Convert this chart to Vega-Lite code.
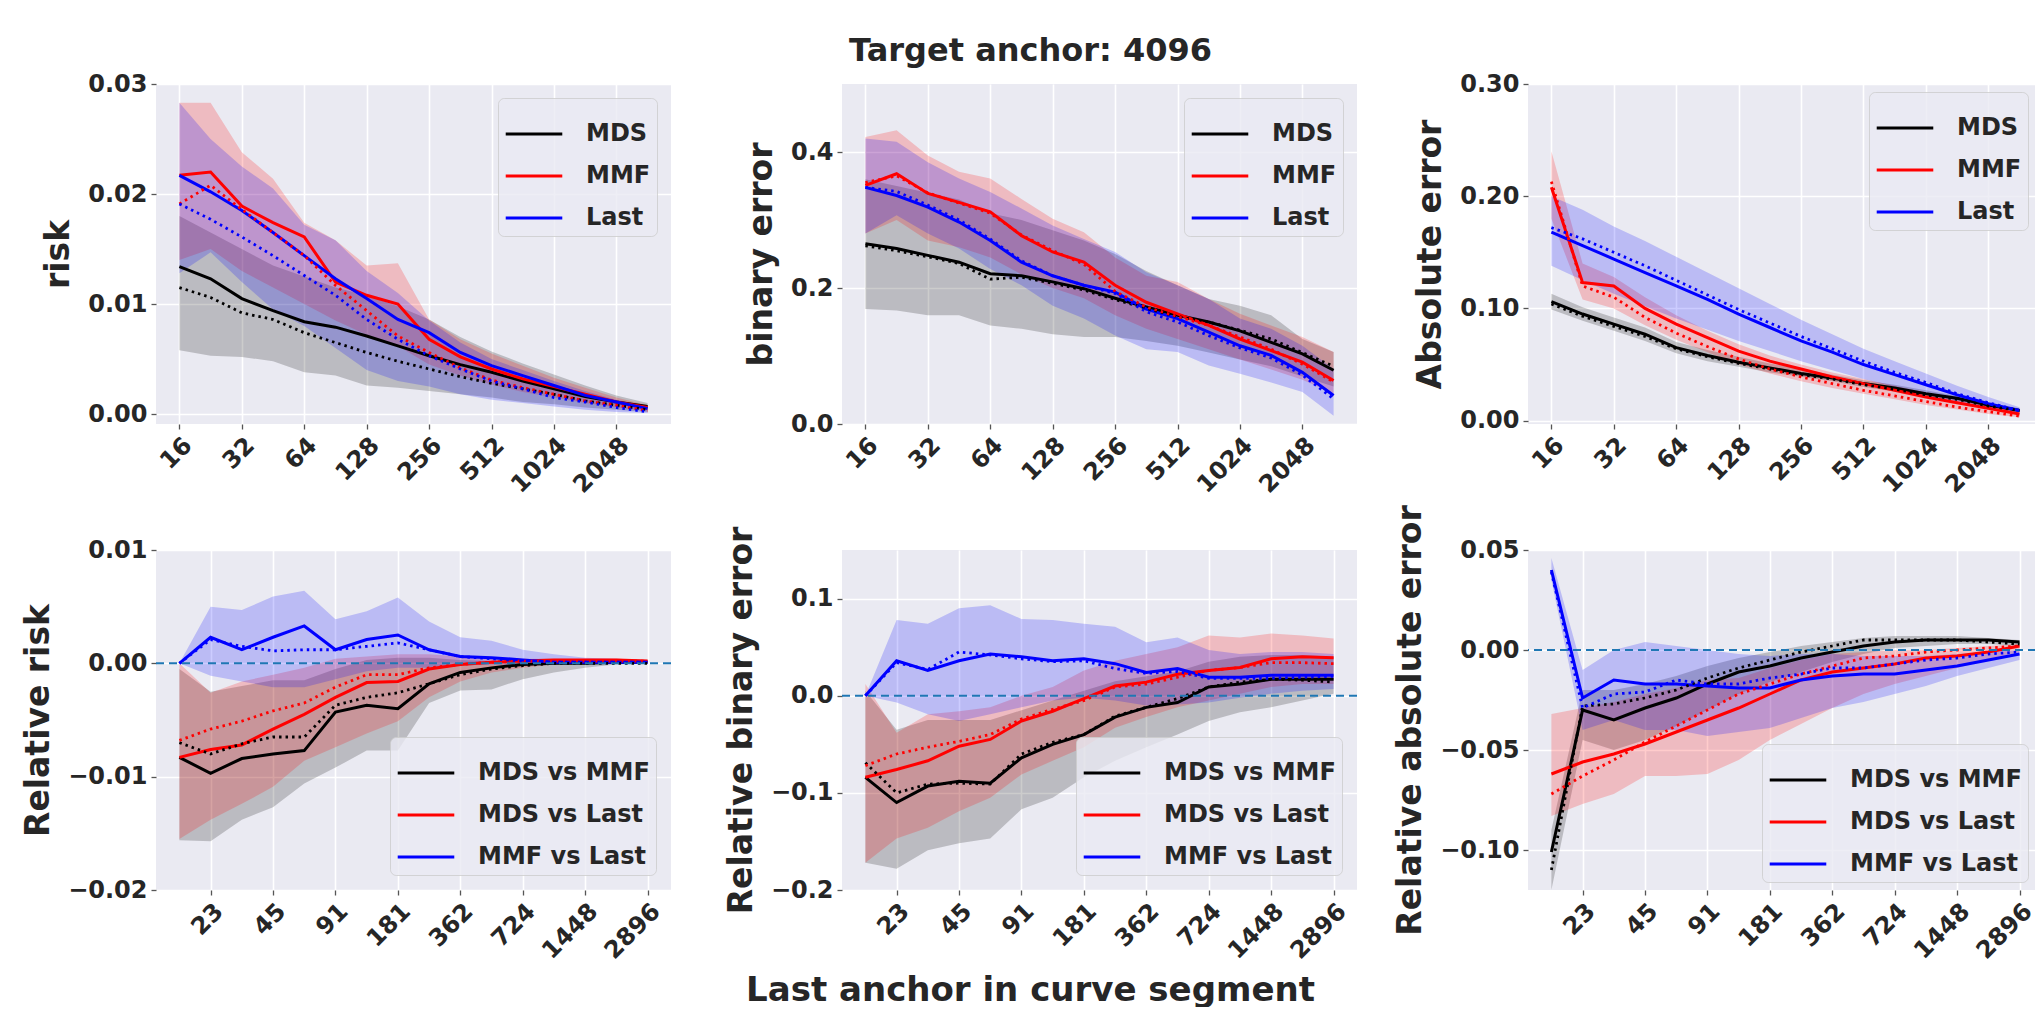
{
"$schema": "https://vega.github.io/schema/vega-lite/v6.json",
"background": "white",
"padding": {"left": 22, "top": 35, "right": 0, "bottom": 0},
"datasets": {"d": [
{"p":1,"s":"MDS","x":16,"m":0.0134,"d":0.0115,"lo":0.0058,"hi":0.018},
{"p":1,"s":"MDS","x":22.627,"m":0.0123,"d":0.0106,"lo":0.0053,"hi":0.0165},
{"p":1,"s":"MDS","x":32,"m":0.0105,"d":0.0092,"lo":0.0052,"hi":0.015},
{"p":1,"s":"MDS","x":45.255,"m":0.0094,"d":0.0086,"lo":0.0048,"hi":0.0135},
{"p":1,"s":"MDS","x":64,"m":0.0084,"d":0.0074,"lo":0.0038,"hi":0.0125},
{"p":1,"s":"MDS","x":90.51,"m":0.0079,"d":0.0065,"lo":0.0035,"hi":0.0115},
{"p":1,"s":"MDS","x":128,"m":0.0071,"d":0.0056,"lo":0.0026,"hi":0.0108},
{"p":1,"s":"MDS","x":181.019,"m":0.0062,"d":0.0048,"lo":0.0024,"hi":0.0098},
{"p":1,"s":"MDS","x":256,"m":0.0053,"d":0.0041,"lo":0.0021,"hi":0.0086},
{"p":1,"s":"MDS","x":362.039,"m":0.0045,"d":0.0034,"lo":0.0018,"hi":0.007},
{"p":1,"s":"MDS","x":512,"m":0.0038,"d":0.0028,"lo":0.0015,"hi":0.0057},
{"p":1,"s":"MDS","x":724.077,"m":0.003,"d":0.0023,"lo":0.0011,"hi":0.0046},
{"p":1,"s":"MDS","x":1024,"m":0.0023,"d":0.0018,"lo":0.0009,"hi":0.0036},
{"p":1,"s":"MDS","x":1448.155,"m":0.0016,"d":0.0012,"lo":0.0006,"hi":0.0026},
{"p":1,"s":"MDS","x":2048,"m":0.0011,"d":0.0008,"lo":0.0004,"hi":0.0017},
{"p":1,"s":"MDS","x":2896.309,"m":0.0007,"d":0.0004,"lo":0.0002,"hi":0.001},
{"p":1,"s":"MMF","x":16,"m":0.0217,"d":0.0191,"lo":0.014,"hi":0.0283},
{"p":1,"s":"MMF","x":22.627,"m":0.022,"d":0.0208,"lo":0.015,"hi":0.0283},
{"p":1,"s":"MMF","x":32,"m":0.0189,"d":0.0186,"lo":0.013,"hi":0.0238},
{"p":1,"s":"MMF","x":45.255,"m":0.0174,"d":0.0165,"lo":0.0115,"hi":0.0214},
{"p":1,"s":"MMF","x":64,"m":0.0161,"d":0.0144,"lo":0.01,"hi":0.0174},
{"p":1,"s":"MMF","x":90.51,"m":0.012,"d":0.0117,"lo":0.0085,"hi":0.0158},
{"p":1,"s":"MMF","x":128,"m":0.0108,"d":0.0094,"lo":0.0072,"hi":0.0135},
{"p":1,"s":"MMF","x":181.019,"m":0.01,"d":0.0071,"lo":0.0062,"hi":0.0137},
{"p":1,"s":"MMF","x":256,"m":0.0068,"d":0.0056,"lo":0.0045,"hi":0.0086},
{"p":1,"s":"MMF","x":362.039,"m":0.0052,"d":0.0042,"lo":0.0035,"hi":0.0068},
{"p":1,"s":"MMF","x":512,"m":0.0041,"d":0.0031,"lo":0.0027,"hi":0.0055},
{"p":1,"s":"MMF","x":724.077,"m":0.0032,"d":0.0024,"lo":0.002,"hi":0.0044},
{"p":1,"s":"MMF","x":1024,"m":0.0025,"d":0.0018,"lo":0.0015,"hi":0.0033},
{"p":1,"s":"MMF","x":1448.155,"m":0.0018,"d":0.0012,"lo":0.001,"hi":0.0024},
{"p":1,"s":"MMF","x":2048,"m":0.0011,"d":0.0008,"lo":0.0006,"hi":0.0015},
{"p":1,"s":"MMF","x":2896.309,"m":0.0006,"d":0.0003,"lo":0.0003,"hi":0.0008},
{"p":1,"s":"Last","x":16,"m":0.0217,"d":0.0191,"lo":0.0128,"hi":0.0283},
{"p":1,"s":"Last","x":22.627,"m":0.0202,"d":0.0177,"lo":0.0147,"hi":0.025},
{"p":1,"s":"Last","x":32,"m":0.0185,"d":0.0161,"lo":0.012,"hi":0.0225},
{"p":1,"s":"Last","x":45.255,"m":0.0165,"d":0.0144,"lo":0.0095,"hi":0.0205},
{"p":1,"s":"Last","x":64,"m":0.0144,"d":0.0126,"lo":0.008,"hi":0.0172},
{"p":1,"s":"Last","x":90.51,"m":0.0123,"d":0.0108,"lo":0.006,"hi":0.0158},
{"p":1,"s":"Last","x":128,"m":0.0105,"d":0.0086,"lo":0.004,"hi":0.013},
{"p":1,"s":"Last","x":181.019,"m":0.0086,"d":0.0068,"lo":0.003,"hi":0.011},
{"p":1,"s":"Last","x":256,"m":0.0074,"d":0.0053,"lo":0.0025,"hi":0.0085},
{"p":1,"s":"Last","x":362.039,"m":0.0056,"d":0.0041,"lo":0.0018,"hi":0.0065},
{"p":1,"s":"Last","x":512,"m":0.0044,"d":0.003,"lo":0.0013,"hi":0.005},
{"p":1,"s":"Last","x":724.077,"m":0.0035,"d":0.0023,"lo":0.001,"hi":0.004},
{"p":1,"s":"Last","x":1024,"m":0.0026,"d":0.0015,"lo":0.0007,"hi":0.003},
{"p":1,"s":"Last","x":1448.155,"m":0.0017,"d":0.0011,"lo":0.0004,"hi":0.0021},
{"p":1,"s":"Last","x":2048,"m":0.0011,"d":0.0006,"lo":0.0002,"hi":0.0013},
{"p":1,"s":"Last","x":2896.309,"m":0.0005,"d":0.0002,"lo":0.0001,"hi":0.0007},
{"p":2,"s":"MDS","x":16,"m":0.265,"d":0.262,"lo":0.169,"hi":0.36},
{"p":2,"s":"MDS","x":22.627,"m":0.258,"d":0.255,"lo":0.167,"hi":0.35},
{"p":2,"s":"MDS","x":32,"m":0.248,"d":0.246,"lo":0.16,"hi":0.34},
{"p":2,"s":"MDS","x":45.255,"m":0.238,"d":0.236,"lo":0.16,"hi":0.33},
{"p":2,"s":"MDS","x":64,"m":0.221,"d":0.213,"lo":0.145,"hi":0.31},
{"p":2,"s":"MDS","x":90.51,"m":0.218,"d":0.216,"lo":0.14,"hi":0.3},
{"p":2,"s":"MDS","x":128,"m":0.209,"d":0.207,"lo":0.132,"hi":0.285},
{"p":2,"s":"MDS","x":181.019,"m":0.199,"d":0.197,"lo":0.128,"hi":0.27},
{"p":2,"s":"MDS","x":256,"m":0.185,"d":0.183,"lo":0.128,"hi":0.25},
{"p":2,"s":"MDS","x":362.039,"m":0.172,"d":0.17,"lo":0.122,"hi":0.225},
{"p":2,"s":"MDS","x":512,"m":0.16,"d":0.158,"lo":0.115,"hi":0.204},
{"p":2,"s":"MDS","x":724.077,"m":0.15,"d":0.15,"lo":0.105,"hi":0.184},
{"p":2,"s":"MDS","x":1024,"m":0.137,"d":0.138,"lo":0.095,"hi":0.174},
{"p":2,"s":"MDS","x":1448.155,"m":0.12,"d":0.125,"lo":0.085,"hi":0.16},
{"p":2,"s":"MDS","x":2048,"m":0.103,"d":0.105,"lo":0.07,"hi":0.125},
{"p":2,"s":"MDS","x":2896.309,"m":0.079,"d":0.085,"lo":0.055,"hi":0.106},
{"p":2,"s":"MMF","x":16,"m":0.351,"d":0.355,"lo":0.28,"hi":0.422},
{"p":2,"s":"MMF","x":22.627,"m":0.368,"d":0.365,"lo":0.3,"hi":0.432},
{"p":2,"s":"MMF","x":32,"m":0.339,"d":0.34,"lo":0.27,"hi":0.395},
{"p":2,"s":"MMF","x":45.255,"m":0.326,"d":0.325,"lo":0.26,"hi":0.371},
{"p":2,"s":"MMF","x":64,"m":0.312,"d":0.31,"lo":0.245,"hi":0.361},
{"p":2,"s":"MMF","x":90.51,"m":0.277,"d":0.278,"lo":0.22,"hi":0.331},
{"p":2,"s":"MMF","x":128,"m":0.253,"d":0.255,"lo":0.2,"hi":0.302},
{"p":2,"s":"MMF","x":181.019,"m":0.238,"d":0.235,"lo":0.185,"hi":0.282},
{"p":2,"s":"MMF","x":256,"m":0.204,"d":0.195,"lo":0.16,"hi":0.245},
{"p":2,"s":"MMF","x":362.039,"m":0.179,"d":0.172,"lo":0.14,"hi":0.218},
{"p":2,"s":"MMF","x":512,"m":0.162,"d":0.158,"lo":0.125,"hi":0.209},
{"p":2,"s":"MMF","x":724.077,"m":0.145,"d":0.145,"lo":0.11,"hi":0.184},
{"p":2,"s":"MMF","x":1024,"m":0.125,"d":0.128,"lo":0.095,"hi":0.162},
{"p":2,"s":"MMF","x":1448.155,"m":0.108,"d":0.11,"lo":0.08,"hi":0.145},
{"p":2,"s":"MMF","x":2048,"m":0.091,"d":0.088,"lo":0.065,"hi":0.128},
{"p":2,"s":"MMF","x":2896.309,"m":0.064,"d":0.062,"lo":0.045,"hi":0.106},
{"p":2,"s":"Last","x":16,"m":0.348,"d":0.348,"lo":0.28,"hi":0.42},
{"p":2,"s":"Last","x":22.627,"m":0.336,"d":0.342,"lo":0.307,"hi":0.415},
{"p":2,"s":"Last","x":32,"m":0.319,"d":0.322,"lo":0.28,"hi":0.385},
{"p":2,"s":"Last","x":45.255,"m":0.297,"d":0.3,"lo":0.258,"hi":0.361},
{"p":2,"s":"Last","x":64,"m":0.27,"d":0.272,"lo":0.228,"hi":0.341},
{"p":2,"s":"Last","x":90.51,"m":0.238,"d":0.24,"lo":0.204,"hi":0.317},
{"p":2,"s":"Last","x":128,"m":0.218,"d":0.218,"lo":0.174,"hi":0.292},
{"p":2,"s":"Last","x":181.019,"m":0.204,"d":0.204,"lo":0.155,"hi":0.272},
{"p":2,"s":"Last","x":256,"m":0.194,"d":0.192,"lo":0.13,"hi":0.253},
{"p":2,"s":"Last","x":362.039,"m":0.169,"d":0.165,"lo":0.11,"hi":0.223},
{"p":2,"s":"Last","x":512,"m":0.155,"d":0.15,"lo":0.106,"hi":0.204},
{"p":2,"s":"Last","x":724.077,"m":0.135,"d":0.13,"lo":0.086,"hi":0.184},
{"p":2,"s":"Last","x":1024,"m":0.115,"d":0.112,"lo":0.074,"hi":0.155},
{"p":2,"s":"Last","x":1448.155,"m":0.101,"d":0.097,"lo":0.061,"hi":0.14},
{"p":2,"s":"Last","x":2048,"m":0.076,"d":0.072,"lo":0.047,"hi":0.115},
{"p":2,"s":"Last","x":2896.309,"m":0.042,"d":0.037,"lo":0.012,"hi":0.081},
{"p":3,"s":"MDS","x":16,"m":0.106,"d":0.104,"lo":0.099,"hi":0.113},
{"p":3,"s":"MDS","x":22.627,"m":0.095,"d":0.093,"lo":0.089,"hi":0.101},
{"p":3,"s":"MDS","x":32,"m":0.086,"d":0.084,"lo":0.08,"hi":0.092},
{"p":3,"s":"MDS","x":45.255,"m":0.077,"d":0.075,"lo":0.071,"hi":0.083},
{"p":3,"s":"MDS","x":64,"m":0.065,"d":0.064,"lo":0.06,"hi":0.07},
{"p":3,"s":"MDS","x":90.51,"m":0.058,"d":0.057,"lo":0.053,"hi":0.063},
{"p":3,"s":"MDS","x":128,"m":0.052,"d":0.051,"lo":0.048,"hi":0.057},
{"p":3,"s":"MDS","x":181.019,"m":0.047,"d":0.046,"lo":0.043,"hi":0.051},
{"p":3,"s":"MDS","x":256,"m":0.042,"d":0.041,"lo":0.039,"hi":0.046},
{"p":3,"s":"MDS","x":362.039,"m":0.038,"d":0.037,"lo":0.035,"hi":0.041},
{"p":3,"s":"MDS","x":512,"m":0.033,"d":0.032,"lo":0.03,"hi":0.036},
{"p":3,"s":"MDS","x":724.077,"m":0.029,"d":0.028,"lo":0.026,"hi":0.032},
{"p":3,"s":"MDS","x":1024,"m":0.024,"d":0.023,"lo":0.022,"hi":0.027},
{"p":3,"s":"MDS","x":1448.155,"m":0.02,"d":0.019,"lo":0.018,"hi":0.022},
{"p":3,"s":"MDS","x":2048,"m":0.014,"d":0.013,"lo":0.012,"hi":0.016},
{"p":3,"s":"MDS","x":2896.309,"m":0.009,"d":0.009,"lo":0.008,"hi":0.011},
{"p":3,"s":"MMF","x":16,"m":0.208,"d":0.213,"lo":0.18,"hi":0.24},
{"p":3,"s":"MMF","x":22.627,"m":0.123,"d":0.12,"lo":0.108,"hi":0.14},
{"p":3,"s":"MMF","x":32,"m":0.12,"d":0.11,"lo":0.1,"hi":0.128},
{"p":3,"s":"MMF","x":45.255,"m":0.1,"d":0.092,"lo":0.085,"hi":0.11},
{"p":3,"s":"MMF","x":64,"m":0.086,"d":0.078,"lo":0.072,"hi":0.094},
{"p":3,"s":"MMF","x":90.51,"m":0.074,"d":0.066,"lo":0.061,"hi":0.08},
{"p":3,"s":"MMF","x":128,"m":0.062,"d":0.055,"lo":0.05,"hi":0.068},
{"p":3,"s":"MMF","x":181.019,"m":0.053,"d":0.046,"lo":0.042,"hi":0.058},
{"p":3,"s":"MMF","x":256,"m":0.046,"d":0.039,"lo":0.035,"hi":0.05},
{"p":3,"s":"MMF","x":362.039,"m":0.039,"d":0.033,"lo":0.029,"hi":0.043},
{"p":3,"s":"MMF","x":512,"m":0.033,"d":0.027,"lo":0.024,"hi":0.037},
{"p":3,"s":"MMF","x":724.077,"m":0.027,"d":0.022,"lo":0.019,"hi":0.031},
{"p":3,"s":"MMF","x":1024,"m":0.021,"d":0.017,"lo":0.014,"hi":0.025},
{"p":3,"s":"MMF","x":1448.155,"m":0.016,"d":0.012,"lo":0.01,"hi":0.019},
{"p":3,"s":"MMF","x":2048,"m":0.011,"d":0.008,"lo":0.006,"hi":0.014},
{"p":3,"s":"MMF","x":2896.309,"m":0.006,"d":0.004,"lo":0.003,"hi":0.008},
{"p":3,"s":"Last","x":16,"m":0.168,"d":0.172,"lo":0.138,"hi":0.2},
{"p":3,"s":"Last","x":22.627,"m":0.156,"d":0.162,"lo":0.125,"hi":0.188},
{"p":3,"s":"Last","x":32,"m":0.144,"d":0.15,"lo":0.113,"hi":0.173},
{"p":3,"s":"Last","x":45.255,"m":0.132,"d":0.138,"lo":0.102,"hi":0.16},
{"p":3,"s":"Last","x":64,"m":0.12,"d":0.125,"lo":0.091,"hi":0.146},
{"p":3,"s":"Last","x":90.51,"m":0.108,"d":0.112,"lo":0.081,"hi":0.132},
{"p":3,"s":"Last","x":128,"m":0.095,"d":0.099,"lo":0.071,"hi":0.118},
{"p":3,"s":"Last","x":181.019,"m":0.083,"d":0.087,"lo":0.062,"hi":0.104},
{"p":3,"s":"Last","x":256,"m":0.071,"d":0.075,"lo":0.053,"hi":0.09},
{"p":3,"s":"Last","x":362.039,"m":0.061,"d":0.064,"lo":0.045,"hi":0.077},
{"p":3,"s":"Last","x":512,"m":0.05,"d":0.053,"lo":0.037,"hi":0.064},
{"p":3,"s":"Last","x":724.077,"m":0.041,"d":0.043,"lo":0.03,"hi":0.053},
{"p":3,"s":"Last","x":1024,"m":0.032,"d":0.034,"lo":0.023,"hi":0.042},
{"p":3,"s":"Last","x":1448.155,"m":0.023,"d":0.024,"lo":0.016,"hi":0.031},
{"p":3,"s":"Last","x":2048,"m":0.015,"d":0.016,"lo":0.01,"hi":0.021},
{"p":3,"s":"Last","x":2896.309,"m":0.009,"d":0.009,"lo":0.006,"hi":0.012},
{"p":4,"s":"MDS vs MMF","x":16,"m":-0.0083,"d":-0.007,"lo":-0.0156,"hi":-0.0005},
{"p":4,"s":"MDS vs MMF","x":22.627,"m":-0.0097,"d":-0.008,"lo":-0.0157,"hi":-0.0025},
{"p":4,"s":"MDS vs MMF","x":32,"m":-0.0084,"d":-0.0071,"lo":-0.0138,"hi":-0.002},
{"p":4,"s":"MDS vs MMF","x":45.255,"m":-0.008,"d":-0.0065,"lo":-0.0127,"hi":-0.0015},
{"p":4,"s":"MDS vs MMF","x":64,"m":-0.0077,"d":-0.0065,"lo":-0.0106,"hi":-0.0015},
{"p":4,"s":"MDS vs MMF","x":90.51,"m":-0.0043,"d":-0.0037,"lo":-0.0092,"hi":-0.0005},
{"p":4,"s":"MDS vs MMF","x":128,"m":-0.0037,"d":-0.003,"lo":-0.0077,"hi":0.0003},
{"p":4,"s":"MDS vs MMF","x":181.019,"m":-0.004,"d":-0.0026,"lo":-0.0077,"hi":0.0005},
{"p":4,"s":"MDS vs MMF","x":256,"m":-0.0018,"d":-0.0018,"lo":-0.0035,"hi":0.0005},
{"p":4,"s":"MDS vs MMF","x":362.039,"m":-0.0008,"d":-0.001,"lo":-0.0024,"hi":0.0003},
{"p":4,"s":"MDS vs MMF","x":512,"m":-0.0004,"d":-0.0005,"lo":-0.0023,"hi":0.0002},
{"p":4,"s":"MDS vs MMF","x":724.077,"m":-0.0001,"d":-0.0002,"lo":-0.0014,"hi":0.0002},
{"p":4,"s":"MDS vs MMF","x":1024,"m":0,"d":0,"lo":-0.0008,"hi":0.0001},
{"p":4,"s":"MDS vs MMF","x":1448.155,"m":0,"d":0,"lo":-0.0004,"hi":0.0001},
{"p":4,"s":"MDS vs MMF","x":2048,"m":0.0001,"d":0,"lo":-0.0001,"hi":0.0001},
{"p":4,"s":"MDS vs MMF","x":2896.309,"m":0.0001,"d":0,"lo":0,"hi":0.0001},
{"p":4,"s":"MDS vs Last","x":16,"m":-0.0083,"d":-0.0068,"lo":-0.0155,"hi":0},
{"p":4,"s":"MDS vs Last","x":22.627,"m":-0.0076,"d":-0.0058,"lo":-0.0138,"hi":-0.0026},
{"p":4,"s":"MDS vs Last","x":32,"m":-0.0072,"d":-0.0051,"lo":-0.0124,"hi":-0.0016},
{"p":4,"s":"MDS vs Last","x":45.255,"m":-0.0058,"d":-0.0042,"lo":-0.0109,"hi":-0.001},
{"p":4,"s":"MDS vs Last","x":64,"m":-0.0045,"d":-0.0035,"lo":-0.0086,"hi":-0.0004},
{"p":4,"s":"MDS vs Last","x":90.51,"m":-0.003,"d":-0.0021,"lo":-0.0074,"hi":0.0004},
{"p":4,"s":"MDS vs Last","x":128,"m":-0.0017,"d":-0.001,"lo":-0.0062,"hi":0.0006},
{"p":4,"s":"MDS vs Last","x":181.019,"m":-0.0016,"d":-0.001,"lo":-0.0051,"hi":0.0008},
{"p":4,"s":"MDS vs Last","x":256,"m":-0.0005,"d":-0.0004,"lo":-0.003,"hi":0.0008},
{"p":4,"s":"MDS vs Last","x":362.039,"m":-0.0001,"d":-0.0001,"lo":-0.0016,"hi":0.0006},
{"p":4,"s":"MDS vs Last","x":512,"m":0.0001,"d":0.0001,"lo":-0.0008,"hi":0.0005},
{"p":4,"s":"MDS vs Last","x":724.077,"m":0.0002,"d":0.0002,"lo":-0.0004,"hi":0.0004},
{"p":4,"s":"MDS vs Last","x":1024,"m":0.0003,"d":0.0002,"lo":-0.0001,"hi":0.0004},
{"p":4,"s":"MDS vs Last","x":1448.155,"m":0.0003,"d":0.0002,"lo":-0.0001,"hi":0.0004},
{"p":4,"s":"MDS vs Last","x":2048,"m":0.0003,"d":0.0002,"lo":0,"hi":0.0004},
{"p":4,"s":"MDS vs Last","x":2896.309,"m":0.0002,"d":0.0002,"lo":0,"hi":0.0003},
{"p":4,"s":"MMF vs Last","x":16,"m":0,"d":0,"lo":0,"hi":0},
{"p":4,"s":"MMF vs Last","x":22.627,"m":0.0023,"d":0.0021,"lo":-0.0011,"hi":0.005},
{"p":4,"s":"MMF vs Last","x":32,"m":0.0012,"d":0.0015,"lo":-0.0016,"hi":0.0047},
{"p":4,"s":"MMF vs Last","x":45.255,"m":0.0023,"d":0.0011,"lo":-0.0021,"hi":0.0059},
{"p":4,"s":"MMF vs Last","x":64,"m":0.0033,"d":0.0012,"lo":-0.0021,"hi":0.0064},
{"p":4,"s":"MMF vs Last","x":90.51,"m":0.0012,"d":0.0012,"lo":-0.0014,"hi":0.0039},
{"p":4,"s":"MMF vs Last","x":128,"m":0.0021,"d":0.0015,"lo":-0.0007,"hi":0.0046},
{"p":4,"s":"MMF vs Last","x":181.019,"m":0.0025,"d":0.0018,"lo":-0.0004,"hi":0.0058},
{"p":4,"s":"MMF vs Last","x":256,"m":0.0012,"d":0.0012,"lo":-0.0004,"hi":0.0037},
{"p":4,"s":"MMF vs Last","x":362.039,"m":0.0006,"d":0.0006,"lo":-0.0002,"hi":0.0023},
{"p":4,"s":"MMF vs Last","x":512,"m":0.0005,"d":0.0004,"lo":-0.0001,"hi":0.002},
{"p":4,"s":"MMF vs Last","x":724.077,"m":0.0003,"d":0.0002,"lo":-0.0001,"hi":0.0012},
{"p":4,"s":"MMF vs Last","x":1024,"m":0.0001,"d":0.0001,"lo":-0.0001,"hi":0.0008},
{"p":4,"s":"MMF vs Last","x":1448.155,"m":0.0001,"d":0.0001,"lo":0,"hi":0.0005},
{"p":4,"s":"MMF vs Last","x":2048,"m":0.0001,"d":0.0001,"lo":0,"hi":0.0004},
{"p":4,"s":"MMF vs Last","x":2896.309,"m":0.0001,"d":0.0001,"lo":0,"hi":0.0003},
{"p":5,"s":"MDS vs MMF","x":16,"m":-0.084,"d":-0.069,"lo":-0.172,"hi":0.005},
{"p":5,"s":"MDS vs MMF","x":22.627,"m":-0.11,"d":-0.1,"lo":-0.178,"hi":-0.035},
{"p":5,"s":"MDS vs MMF","x":32,"m":-0.093,"d":-0.091,"lo":-0.159,"hi":-0.025},
{"p":5,"s":"MDS vs MMF","x":45.255,"m":-0.088,"d":-0.09,"lo":-0.152,"hi":-0.025},
{"p":5,"s":"MDS vs MMF","x":64,"m":-0.09,"d":-0.091,"lo":-0.147,"hi":-0.025},
{"p":5,"s":"MDS vs MMF","x":90.51,"m":-0.064,"d":-0.06,"lo":-0.117,"hi":-0.015},
{"p":5,"s":"MDS vs MMF","x":128,"m":-0.05,"d":-0.048,"lo":-0.105,"hi":-0.005},
{"p":5,"s":"MDS vs MMF","x":181.019,"m":-0.04,"d":-0.04,"lo":-0.084,"hi":0.005},
{"p":5,"s":"MDS vs MMF","x":256,"m":-0.022,"d":-0.021,"lo":-0.067,"hi":0.015},
{"p":5,"s":"MDS vs MMF","x":362.039,"m":-0.012,"d":-0.012,"lo":-0.053,"hi":0.02},
{"p":5,"s":"MDS vs MMF","x":512,"m":-0.007,"d":-0.003,"lo":-0.04,"hi":0.025},
{"p":5,"s":"MDS vs MMF","x":724.077,"m":0.009,"d":0.009,"lo":-0.026,"hi":0.035},
{"p":5,"s":"MDS vs MMF","x":1024,"m":0.012,"d":0.014,"lo":-0.017,"hi":0.04},
{"p":5,"s":"MDS vs MMF","x":1448.155,"m":0.017,"d":0.017,"lo":-0.012,"hi":0.042},
{"p":5,"s":"MDS vs MMF","x":2048,"m":0.017,"d":0.016,"lo":-0.005,"hi":0.042},
{"p":5,"s":"MDS vs MMF","x":2896.309,"m":0.017,"d":0.014,"lo":0.002,"hi":0.04},
{"p":5,"s":"MDS vs Last","x":16,"m":-0.084,"d":-0.072,"lo":-0.172,"hi":0.012},
{"p":5,"s":"MDS vs Last","x":22.627,"m":-0.076,"d":-0.06,"lo":-0.147,"hi":-0.038},
{"p":5,"s":"MDS vs Last","x":32,"m":-0.067,"d":-0.053,"lo":-0.136,"hi":-0.019},
{"p":5,"s":"MDS vs Last","x":45.255,"m":-0.052,"d":-0.047,"lo":-0.119,"hi":-0.016},
{"p":5,"s":"MDS vs Last","x":64,"m":-0.045,"d":-0.04,"lo":-0.105,"hi":-0.012},
{"p":5,"s":"MDS vs Last","x":90.51,"m":-0.026,"d":-0.024,"lo":-0.081,"hi":0},
{"p":5,"s":"MDS vs Last","x":128,"m":-0.016,"d":-0.014,"lo":-0.067,"hi":0.009},
{"p":5,"s":"MDS vs Last","x":181.019,"m":-0.003,"d":-0.005,"lo":-0.053,"hi":0.026},
{"p":5,"s":"MDS vs Last","x":256,"m":0.01,"d":0.009,"lo":-0.033,"hi":0.036},
{"p":5,"s":"MDS vs Last","x":362.039,"m":0.014,"d":0.012,"lo":-0.022,"hi":0.043},
{"p":5,"s":"MDS vs Last","x":512,"m":0.022,"d":0.019,"lo":-0.012,"hi":0.05},
{"p":5,"s":"MDS vs Last","x":724.077,"m":0.026,"d":0.026,"lo":-0.005,"hi":0.062},
{"p":5,"s":"MDS vs Last","x":1024,"m":0.029,"d":0.029,"lo":0.002,"hi":0.06},
{"p":5,"s":"MDS vs Last","x":1448.155,"m":0.038,"d":0.034,"lo":0.009,"hi":0.064},
{"p":5,"s":"MDS vs Last","x":2048,"m":0.04,"d":0.034,"lo":0.012,"hi":0.062},
{"p":5,"s":"MDS vs Last","x":2896.309,"m":0.039,"d":0.033,"lo":0.012,"hi":0.059},
{"p":5,"s":"MMF vs Last","x":16,"m":0,"d":0,"lo":0,"hi":0},
{"p":5,"s":"MMF vs Last","x":22.627,"m":0.036,"d":0.034,"lo":-0.007,"hi":0.078},
{"p":5,"s":"MMF vs Last","x":32,"m":0.026,"d":0.027,"lo":-0.019,"hi":0.074},
{"p":5,"s":"MMF vs Last","x":45.255,"m":0.036,"d":0.045,"lo":-0.026,"hi":0.09},
{"p":5,"s":"MMF vs Last","x":64,"m":0.043,"d":0.042,"lo":-0.019,"hi":0.093},
{"p":5,"s":"MMF vs Last","x":90.51,"m":0.04,"d":0.038,"lo":-0.012,"hi":0.079},
{"p":5,"s":"MMF vs Last","x":128,"m":0.036,"d":0.035,"lo":-0.005,"hi":0.078},
{"p":5,"s":"MMF vs Last","x":181.019,"m":0.038,"d":0.036,"lo":-0.002,"hi":0.074},
{"p":5,"s":"MMF vs Last","x":256,"m":0.033,"d":0.028,"lo":-0.005,"hi":0.071},
{"p":5,"s":"MMF vs Last","x":362.039,"m":0.024,"d":0.023,"lo":-0.01,"hi":0.055},
{"p":5,"s":"MMF vs Last","x":512,"m":0.028,"d":0.025,"lo":-0.009,"hi":0.06},
{"p":5,"s":"MMF vs Last","x":724.077,"m":0.019,"d":0.018,"lo":-0.007,"hi":0.047},
{"p":5,"s":"MMF vs Last","x":1024,"m":0.019,"d":0.018,"lo":-0.002,"hi":0.043},
{"p":5,"s":"MMF vs Last","x":1448.155,"m":0.021,"d":0.018,"lo":0.002,"hi":0.045},
{"p":5,"s":"MMF vs Last","x":2048,"m":0.021,"d":0.019,"lo":0.005,"hi":0.045},
{"p":5,"s":"MMF vs Last","x":2896.309,"m":0.021,"d":0.02,"lo":0.007,"hi":0.043},
{"p":6,"s":"MDS vs MMF","x":16,"m":-0.101,"d":-0.11,"lo":-0.12,"hi":-0.09},
{"p":6,"s":"MDS vs MMF","x":22.627,"m":-0.03,"d":-0.028,"lo":-0.045,"hi":-0.02},
{"p":6,"s":"MDS vs MMF","x":32,"m":-0.035,"d":-0.027,"lo":-0.05,"hi":-0.02},
{"p":6,"s":"MDS vs MMF","x":45.255,"m":-0.029,"d":-0.024,"lo":-0.045,"hi":-0.017},
{"p":6,"s":"MDS vs MMF","x":64,"m":-0.024,"d":-0.02,"lo":-0.038,"hi":-0.013},
{"p":6,"s":"MDS vs MMF","x":90.51,"m":-0.017,"d":-0.014,"lo":-0.03,"hi":-0.008},
{"p":6,"s":"MDS vs MMF","x":128,"m":-0.011,"d":-0.009,"lo":-0.022,"hi":-0.004},
{"p":6,"s":"MDS vs MMF","x":181.019,"m":-0.008,"d":-0.005,"lo":-0.016,"hi":-0.001},
{"p":6,"s":"MDS vs MMF","x":256,"m":-0.004,"d":-0.001,"lo":-0.011,"hi":0.002},
{"p":6,"s":"MDS vs MMF","x":362.039,"m":-0.001,"d":0.002,"lo":-0.006,"hi":0.004},
{"p":6,"s":"MDS vs MMF","x":512,"m":0.002,"d":0.005,"lo":-0.002,"hi":0.006},
{"p":6,"s":"MDS vs MMF","x":724.077,"m":0.004,"d":0.005,"lo":0.001,"hi":0.007},
{"p":6,"s":"MDS vs MMF","x":1024,"m":0.005,"d":0.005,"lo":0.002,"hi":0.007},
{"p":6,"s":"MDS vs MMF","x":1448.155,"m":0.005,"d":0.005,"lo":0.003,"hi":0.007},
{"p":6,"s":"MDS vs MMF","x":2048,"m":0.005,"d":0.004,"lo":0.003,"hi":0.006},
{"p":6,"s":"MDS vs MMF","x":2896.309,"m":0.004,"d":0.003,"lo":0.002,"hi":0.005},
{"p":6,"s":"MDS vs Last","x":16,"m":-0.062,"d":-0.072,"lo":-0.083,"hi":-0.032},
{"p":6,"s":"MDS vs Last","x":22.627,"m":-0.056,"d":-0.063,"lo":-0.077,"hi":-0.029},
{"p":6,"s":"MDS vs Last","x":32,"m":-0.052,"d":-0.055,"lo":-0.072,"hi":-0.026},
{"p":6,"s":"MDS vs Last","x":45.255,"m":-0.047,"d":-0.046,"lo":-0.063,"hi":-0.022},
{"p":6,"s":"MDS vs Last","x":64,"m":-0.041,"d":-0.038,"lo":-0.063,"hi":-0.019},
{"p":6,"s":"MDS vs Last","x":90.51,"m":-0.035,"d":-0.03,"lo":-0.062,"hi":-0.015},
{"p":6,"s":"MDS vs Last","x":128,"m":-0.029,"d":-0.022,"lo":-0.055,"hi":-0.014},
{"p":6,"s":"MDS vs Last","x":181.019,"m":-0.022,"d":-0.017,"lo":-0.045,"hi":-0.009},
{"p":6,"s":"MDS vs Last","x":256,"m":-0.015,"d":-0.012,"lo":-0.037,"hi":-0.005},
{"p":6,"s":"MDS vs Last","x":362.039,"m":-0.011,"d":-0.008,"lo":-0.029,"hi":-0.002},
{"p":6,"s":"MDS vs Last","x":512,"m":-0.009,"d":-0.004,"lo":-0.022,"hi":-0.001},
{"p":6,"s":"MDS vs Last","x":724.077,"m":-0.007,"d":-0.003,"lo":-0.017,"hi":0},
{"p":6,"s":"MDS vs Last","x":1024,"m":-0.004,"d":-0.001,"lo":-0.013,"hi":0},
{"p":6,"s":"MDS vs Last","x":1448.155,"m":-0.003,"d":0,"lo":-0.009,"hi":0.001},
{"p":6,"s":"MDS vs Last","x":2048,"m":-0.001,"d":0.001,"lo":-0.005,"hi":0.002},
{"p":6,"s":"MDS vs Last","x":2896.309,"m":0.002,"d":0.002,"lo":-0.001,"hi":0.003},
{"p":6,"s":"MMF vs Last","x":16,"m":0.04,"d":0.039,"lo":0.035,"hi":0.046},
{"p":6,"s":"MMF vs Last","x":22.627,"m":-0.024,"d":-0.029,"lo":-0.04,"hi":-0.01},
{"p":6,"s":"MMF vs Last","x":32,"m":-0.015,"d":-0.022,"lo":-0.035,"hi":0},
{"p":6,"s":"MMF vs Last","x":45.255,"m":-0.017,"d":-0.021,"lo":-0.04,"hi":0.004},
{"p":6,"s":"MMF vs Last","x":64,"m":-0.017,"d":-0.015,"lo":-0.04,"hi":0.002},
{"p":6,"s":"MMF vs Last","x":90.51,"m":-0.018,"d":-0.017,"lo":-0.043,"hi":0},
{"p":6,"s":"MMF vs Last","x":128,"m":-0.019,"d":-0.017,"lo":-0.041,"hi":-0.002},
{"p":6,"s":"MMF vs Last","x":181.019,"m":-0.019,"d":-0.014,"lo":-0.039,"hi":-0.003},
{"p":6,"s":"MMF vs Last","x":256,"m":-0.015,"d":-0.012,"lo":-0.034,"hi":-0.002},
{"p":6,"s":"MMF vs Last","x":362.039,"m":-0.013,"d":-0.009,"lo":-0.029,"hi":-0.002},
{"p":6,"s":"MMF vs Last","x":512,"m":-0.012,"d":-0.009,"lo":-0.026,"hi":-0.003},
{"p":6,"s":"MMF vs Last","x":724.077,"m":-0.012,"d":-0.007,"lo":-0.022,"hi":-0.003},
{"p":6,"s":"MMF vs Last","x":1024,"m":-0.01,"d":-0.005,"lo":-0.018,"hi":-0.003},
{"p":6,"s":"MMF vs Last","x":1448.155,"m":-0.008,"d":-0.004,"lo":-0.013,"hi":-0.002},
{"p":6,"s":"MMF vs Last","x":2048,"m":-0.005,"d":-0.002,"lo":-0.009,"hi":-0.001},
{"p":6,"s":"MMF vs Last","x":2896.309,"m":-0.002,"d":-0.001,"lo":-0.005,"hi":0},
{"p":4,"s":"ref","z":0},
{"p":5,"s":"ref","z":0},
{"p":6,"s":"ref","z":0}
]},
"data": {"name": "d"},
"columns": 3,
"spacing": {"row": 126, "column": 171},
"bounds": "flush",
"resolve": {"scale": {"color": "independent", "fill": "independent", "x": "independent", "y": "independent"}, "legend": {"color": "independent"}},
"concat": [
 {"width": 515, "height": 340, "transform": [{"filter": "datum.p == 1"}],
  "layer": [
   {"transform": [{"filter": "datum.s != 'ref'"}], "mark": {"type": "area", "fillOpacity": 0.2},
    "encoding": {
     "x": {"field": "x", "type": "quantitative", "title": null, "scale": {"type": "log", "base": 2, "domain": [12.34, 3756], "nice": false}, "axis": {"values": [16,32,64,128,256,512,1024,2048], "format": ".0f", "labelAngle": -45, "labelAlign": "right", "labelBaseline": "top"}},
     "y": {"field": "lo", "type": "quantitative", "title": "risk", "scale": {"domain": [-0.0009, 0.03], "nice": false, "zero": false}, "axis": {"values": [0, 0.01, 0.02, 0.03], "format": ".2f"}},
     "y2": {"field": "hi"},
     "fill": {"field": "s", "type": "nominal", "scale": {"domain": ["Last", "MMF", "MDS"], "range": ["#0000FF", "#FF0000", "#000000"]}, "legend": null}}},
   {"transform": [{"filter": "datum.s != 'ref'"}], "mark": {"type": "line", "strokeWidth": 3},
    "encoding": {
     "x": {"field": "x", "type": "quantitative", "title": null},
     "y": {"field": "m", "type": "quantitative", "title": "risk"},
     "color": {"field": "s", "type": "nominal", "scale": {"domain": ["MDS", "MMF", "Last"], "range": ["#000000", "#FF0000", "#0000FF"]}, "legend": {"orient": "top-right", "title": null, "offset": 14}}}},
   {"transform": [{"filter": "datum.s != 'ref'"}], "mark": {"type": "line", "strokeWidth": 2.8, "strokeDash": [2.5, 4]},
    "encoding": {
     "x": {"field": "x", "type": "quantitative", "title": null},
     "y": {"field": "d", "type": "quantitative", "title": "risk"},
     "color": {"field": "s", "type": "nominal"}}}
  ]},
 {"width": 515, "height": 340, "transform": [{"filter": "datum.p == 2"}],
  "title": {"text": "Target anchor: 4096", "fontSize": 32, "fontWeight": "bold", "color": "#262626", "dx": -69, "offset": -9, "baseline": "alphabetic"},
  "layer": [
   {"transform": [{"filter": "datum.s != 'ref'"}], "mark": {"type": "area", "fillOpacity": 0.2},
    "encoding": {
     "x": {"field": "x", "type": "quantitative", "title": null, "scale": {"type": "log", "base": 2, "domain": [12.34, 3756], "nice": false}, "axis": {"values": [16,32,64,128,256,512,1024,2048], "format": ".0f", "labelAngle": -45, "labelAlign": "right", "labelBaseline": "top"}},
     "y": {"field": "lo", "type": "quantitative", "title": "binary error", "scale": {"domain": [0, 0.5], "nice": false, "zero": false}, "axis": {"values": [0, 0.2, 0.4], "format": ".1f"}},
     "y2": {"field": "hi"},
     "fill": {"field": "s", "type": "nominal", "scale": {"domain": ["Last", "MMF", "MDS"], "range": ["#0000FF", "#FF0000", "#000000"]}, "legend": null}}},
   {"transform": [{"filter": "datum.s != 'ref'"}], "mark": {"type": "line", "strokeWidth": 3},
    "encoding": {
     "x": {"field": "x", "type": "quantitative", "title": null},
     "y": {"field": "m", "type": "quantitative", "title": "binary error"},
     "color": {"field": "s", "type": "nominal", "scale": {"domain": ["MDS", "MMF", "Last"], "range": ["#000000", "#FF0000", "#0000FF"]}, "legend": {"orient": "top-right", "title": null, "offset": 14}}}},
   {"transform": [{"filter": "datum.s != 'ref'"}], "mark": {"type": "line", "strokeWidth": 2.8, "strokeDash": [2.5, 4]},
    "encoding": {
     "x": {"field": "x", "type": "quantitative", "title": null},
     "y": {"field": "d", "type": "quantitative", "title": "binary error"},
     "color": {"field": "s", "type": "nominal"}}}
  ]},
 {"width": 508, "height": 340, "transform": [{"filter": "datum.p == 3"}],
  "layer": [
   {"transform": [{"filter": "datum.s != 'ref'"}], "mark": {"type": "area", "fillOpacity": 0.2},
    "encoding": {
     "x": {"field": "x", "type": "quantitative", "title": null, "scale": {"type": "log", "base": 2, "domain": [12.34, 3478], "nice": false}, "axis": {"values": [16,32,64,128,256,512,1024,2048], "format": ".0f", "labelAngle": -45, "labelAlign": "right", "labelBaseline": "top"}},
     "y": {"field": "lo", "type": "quantitative", "title": "Absolute error", "scale": {"domain": [-0.003, 0.3], "nice": false, "zero": false}, "axis": {"values": [0, 0.1, 0.2, 0.3], "format": ".2f"}},
     "y2": {"field": "hi"},
     "fill": {"field": "s", "type": "nominal", "scale": {"domain": ["Last", "MMF", "MDS"], "range": ["#0000FF", "#FF0000", "#000000"]}, "legend": null}}},
   {"transform": [{"filter": "datum.s != 'ref'"}], "mark": {"type": "line", "strokeWidth": 3},
    "encoding": {
     "x": {"field": "x", "type": "quantitative", "title": null},
     "y": {"field": "m", "type": "quantitative", "title": "Absolute error"},
     "color": {"field": "s", "type": "nominal", "scale": {"domain": ["MDS", "MMF", "Last"], "range": ["#000000", "#FF0000", "#0000FF"]}, "legend": {"orient": "top-right", "title": null, "offset": 8}}}},
   {"transform": [{"filter": "datum.s != 'ref'"}], "mark": {"type": "line", "strokeWidth": 2.8, "strokeDash": [2.5, 4]},
    "encoding": {
     "x": {"field": "x", "type": "quantitative", "title": null},
     "y": {"field": "d", "type": "quantitative", "title": "Absolute error"},
     "color": {"field": "s", "type": "nominal"}}}
  ]},
 {"width": 515, "height": 340, "transform": [{"filter": "datum.p == 4"}],
  "layer": [
   {"transform": [{"filter": "datum.s != 'ref'"}], "mark": {"type": "area", "fillOpacity": 0.2},
    "encoding": {
     "x": {"field": "x", "type": "quantitative", "title": null, "scale": {"type": "log", "base": 2, "domain": [12.34, 3756], "nice": false}, "axis": {"values": [22.627,45.255,90.51,181.019,362.039,724.077,1448.155,2896.309], "format": ".0f", "labelAngle": -45, "labelAlign": "right", "labelBaseline": "top"}},
     "y": {"field": "lo", "type": "quantitative", "title": "Relative risk", "scale": {"domain": [-0.02, 0.01], "nice": false, "zero": false}, "axis": {"values": [-0.02, -0.01, 0, 0.01], "format": ".2f"}},
     "y2": {"field": "hi"},
     "fill": {"field": "s", "type": "nominal", "scale": {"domain": ["MMF vs Last", "MDS vs Last", "MDS vs MMF"], "range": ["#0000FF", "#FF0000", "#000000"]}, "legend": null}}},
   {"transform": [{"filter": "datum.s != 'ref'"}], "mark": {"type": "line", "strokeWidth": 3},
    "encoding": {
     "x": {"field": "x", "type": "quantitative", "title": null},
     "y": {"field": "m", "type": "quantitative", "title": "Relative risk"},
     "color": {"field": "s", "type": "nominal", "scale": {"domain": ["MDS vs MMF", "MDS vs Last", "MMF vs Last"], "range": ["#000000", "#FF0000", "#0000FF"]}, "legend": {"orient": "bottom-right", "title": null, "offset": 15}}}},
   {"transform": [{"filter": "datum.s != 'ref'"}], "mark": {"type": "line", "strokeWidth": 2.8, "strokeDash": [2.5, 4]},
    "encoding": {
     "x": {"field": "x", "type": "quantitative", "title": null},
     "y": {"field": "d", "type": "quantitative", "title": "Relative risk"},
     "color": {"field": "s", "type": "nominal"}}},
   {"transform": [{"filter": "datum.s == 'ref'"}], "mark": {"type": "rule", "color": "#1f77b4", "strokeWidth": 2, "strokeDash": [8, 5]},
    "encoding": {"y": {"field": "z", "type": "quantitative", "title": "Relative risk"}}}
  ]},
 {"width": 515, "height": 340, "transform": [{"filter": "datum.p == 5"}],
  "layer": [
   {"transform": [{"filter": "datum.s != 'ref'"}], "mark": {"type": "area", "fillOpacity": 0.2},
    "encoding": {
     "x": {"field": "x", "type": "quantitative", "title": "Last anchor in curve segment", "scale": {"type": "log", "base": 2, "domain": [12.34, 3756], "nice": false}, "axis": {"values": [22.627,45.255,90.51,181.019,362.039,724.077,1448.155,2896.309], "format": ".0f", "labelAngle": -45, "labelAlign": "right", "labelBaseline": "top", "titleX": 188, "titleY": 110, "titleAlign": "center", "titleBaseline": "alphabetic", "titleFontSize": 34}},
     "y": {"field": "lo", "type": "quantitative", "title": "Relative binary error", "scale": {"domain": [-0.2, 0.15], "nice": false, "zero": false}, "axis": {"values": [-0.2, -0.1, 0, 0.1], "format": ".1f"}},
     "y2": {"field": "hi"},
     "fill": {"field": "s", "type": "nominal", "scale": {"domain": ["MMF vs Last", "MDS vs Last", "MDS vs MMF"], "range": ["#0000FF", "#FF0000", "#000000"]}, "legend": null}}},
   {"transform": [{"filter": "datum.s != 'ref'"}], "mark": {"type": "line", "strokeWidth": 3},
    "encoding": {
     "x": {"field": "x", "type": "quantitative", "title": "Last anchor in curve segment"},
     "y": {"field": "m", "type": "quantitative", "title": "Relative binary error"},
     "color": {"field": "s", "type": "nominal", "scale": {"domain": ["MDS vs MMF", "MDS vs Last", "MMF vs Last"], "range": ["#000000", "#FF0000", "#0000FF"]}, "legend": {"orient": "bottom-right", "title": null, "offset": 15}}}},
   {"transform": [{"filter": "datum.s != 'ref'"}], "mark": {"type": "line", "strokeWidth": 2.8, "strokeDash": [2.5, 4]},
    "encoding": {
     "x": {"field": "x", "type": "quantitative", "title": "Last anchor in curve segment"},
     "y": {"field": "d", "type": "quantitative", "title": "Relative binary error"},
     "color": {"field": "s", "type": "nominal"}}},
   {"transform": [{"filter": "datum.s == 'ref'"}], "mark": {"type": "rule", "color": "#1f77b4", "strokeWidth": 2, "strokeDash": [8, 5]},
    "encoding": {"y": {"field": "z", "type": "quantitative", "title": "Relative binary error"}}}
  ]},
 {"width": 508, "height": 340, "transform": [{"filter": "datum.p == 6"}],
  "layer": [
   {"transform": [{"filter": "datum.s != 'ref'"}], "mark": {"type": "area", "fillOpacity": 0.2},
    "encoding": {
     "x": {"field": "x", "type": "quantitative", "title": null, "scale": {"type": "log", "base": 2, "domain": [12.34, 3478], "nice": false}, "axis": {"values": [22.627,45.255,90.51,181.019,362.039,724.077,1448.155,2896.309], "format": ".0f", "labelAngle": -45, "labelAlign": "right", "labelBaseline": "top"}},
     "y": {"field": "lo", "type": "quantitative", "title": "Relative absolute error", "scale": {"domain": [-0.12, 0.05], "nice": false, "zero": false}, "axis": {"values": [-0.1, -0.05, 0, 0.05], "format": ".2f"}},
     "y2": {"field": "hi"},
     "fill": {"field": "s", "type": "nominal", "scale": {"domain": ["MMF vs Last", "MDS vs Last", "MDS vs MMF"], "range": ["#0000FF", "#FF0000", "#000000"]}, "legend": null}}},
   {"transform": [{"filter": "datum.s != 'ref'"}], "mark": {"type": "line", "strokeWidth": 3},
    "encoding": {
     "x": {"field": "x", "type": "quantitative", "title": null},
     "y": {"field": "m", "type": "quantitative", "title": "Relative absolute error"},
     "color": {"field": "s", "type": "nominal", "scale": {"domain": ["MDS vs MMF", "MDS vs Last", "MMF vs Last"], "range": ["#000000", "#FF0000", "#0000FF"]}, "legend": {"orient": "bottom-right", "title": null, "offset": 8}}}},
   {"transform": [{"filter": "datum.s != 'ref'"}], "mark": {"type": "line", "strokeWidth": 2.8, "strokeDash": [2.5, 4]},
    "encoding": {
     "x": {"field": "x", "type": "quantitative", "title": null},
     "y": {"field": "d", "type": "quantitative", "title": "Relative absolute error"},
     "color": {"field": "s", "type": "nominal"}}},
   {"transform": [{"filter": "datum.s == 'ref'"}], "mark": {"type": "rule", "color": "#1f77b4", "strokeWidth": 2, "strokeDash": [8, 5]},
    "encoding": {"y": {"field": "z", "type": "quantitative", "title": "Relative absolute error"}}}
  ]}
],
"config": {
 "font": "DejaVu Sans",
 "view": {"fill": "#EAEAF2", "stroke": null},
 "axis": {"domain": false, "grid": true, "gridColor": "#FFFFFF", "gridWidth": 1.6, "ticks": true, "tickColor": "#555555", "tickSize": 5, "tickWidth": 1.3, "labelFont": "DejaVu Sans", "labelFontSize": 24, "labelFontWeight": "bold", "labelColor": "#262626", "labelPadding": 4, "labelOverlap": false, "labelFlush": false, "titleFont": "DejaVu Sans", "titleFontSize": 33, "titleFontWeight": "bold", "titleColor": "#262626", "titlePadding": 12},
 "legend": {"labelFont": "DejaVu Sans", "labelFontSize": 24, "labelFontWeight": "bold", "labelColor": "#262626", "labelLimit": 400, "symbolType": "stroke", "symbolStrokeWidth": 3, "symbolSize": 3200, "labelOffset": 22, "padding": 6, "rowPadding": 0, "fillColor": "rgba(234,234,242,0.8)", "strokeColor": "rgba(204,204,204,0.8)", "cornerRadius": 6}
}
}
